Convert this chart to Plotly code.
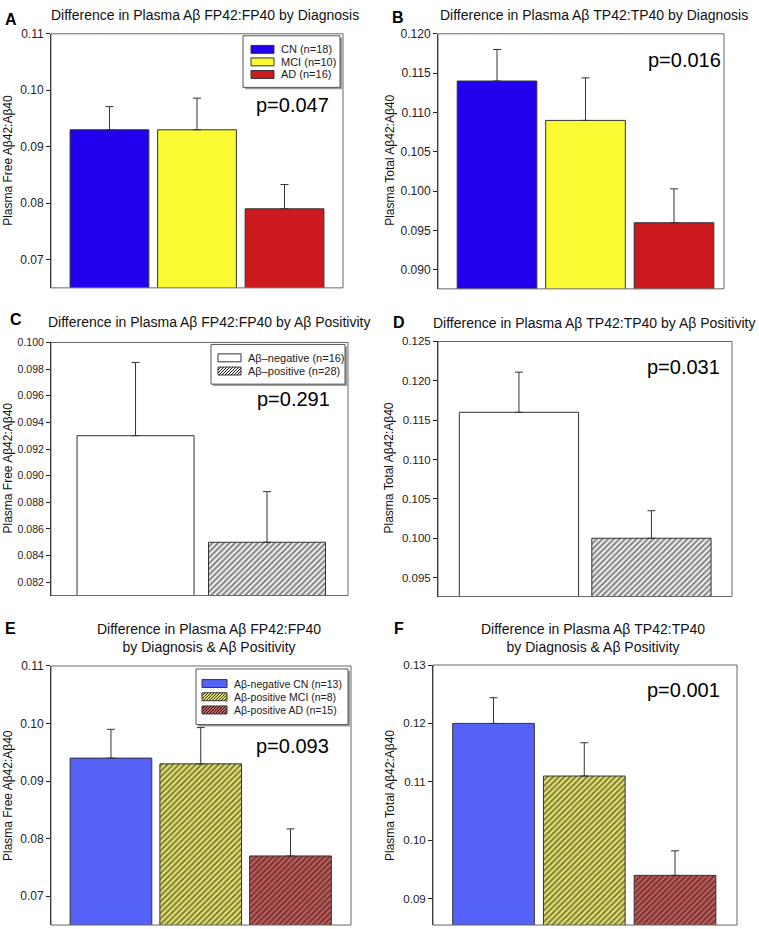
import plotly.graph_objects as go

# ---------------- data ----------------
dx_groups = ["CN (n=18)", "MCI (n=10)", "AD (n=16)"]
a_means = [0.093, 0.093, 0.079]
a_errs = [0.0041, 0.0056, 0.0043]
b_means = [0.114, 0.109, 0.096]
b_errs = [0.0040, 0.0054, 0.0043]

pos_groups = ["Aβ–negative (n=16)", "Aβ–positive (n=28)"]
c_means = [0.093, 0.085]
c_errs = [0.0055, 0.0038]
d_means = [0.116, 0.100]
d_errs = [0.0051, 0.0035]

mix_groups = ["Aβ-negative CN (n=13)", "Aβ-positive MCI (n=8)", "Aβ-positive AD (n=15)"]
e_means = [0.094, 0.093, 0.077]
e_errs = [0.0050, 0.0063, 0.0047]
f_means = [0.120, 0.111, 0.094]
f_errs = [0.0044, 0.0057, 0.0042]

p_values = ["p=0.047", "p=0.016", "p=0.291", "p=0.031", "p=0.093", "p=0.001"]
titles = [
    "Difference in Plasma Aβ FP42:FP40 by Diagnosis",
    "Difference in Plasma Aβ TP42:TP40 by Diagnosis",
    "Difference in Plasma Aβ FP42:FP40 by Aβ Positivity",
    "Difference in Plasma Aβ TP42:TP40 by Aβ Positivity",
    "Difference in Plasma Aβ FP42:FP40<br>by Diagnosis & Aβ Positivity",
    "Difference in Plasma Aβ TP42:TP40<br>by Diagnosis & Aβ Positivity",
]
ytitles = ["Plasma Free Aβ42:Aβ40", "Plasma Total Aβ42:Aβ40"] * 3
labels = ["A", "B", "C", "D", "E", "F"]

# ---------------- styling ----------------
W, H = 759, 929
FONT = "Arial, Liberation Sans, sans-serif"
HATCH_FG = "#141414"


def fx(p):
    return p / W


def fy(p):
    return 1 - p / H


NOPAT = dict(shape="")


def HATCH(bg):
    return dict(shape="/", fgcolor=HATCH_FG, bgcolor=bg, size=4, solidity=0.58, fillmode="overlay")


dx_styles = [("#2200EE", NOPAT), ("#FAFA32", NOPAT), ("#CC1A1E", NOPAT)]
pos_styles = [("#FFFFFF", NOPAT), ("#FFFFFF", HATCH("#FFFFFF"))]
mix_styles = [("#5462F7", NOPAT), ("#F4F270", HATCH("#F4F270")), ("#D2605E", HATCH("#D2605E"))]

panels = [
    # groups, means, errs, styles, plot px box, xrange, yrange, dtick, tick0, fmt, barwidth, tickfont
    (dx_groups, a_means, a_errs, dx_styles, (51, 343, 27, 283), [-0.668, 2.668], [0.065, 0.11], 0.01, 0.07, ".2f", 0.9, 12),
    (dx_groups, b_means, b_errs, dx_styles, (438, 724, 27, 284), [-0.667, 2.565], [0.0876, 0.120], 0.005, 0.09, ".3f", 0.9, 12),
    (pos_groups, c_means, c_errs, pos_styles, (51, 348, 338, 593), [-0.643, 1.616], [0.081, 0.100], 0.002, 0.082, ".3f", 0.89, 10.5),
    (pos_groups, d_means, d_errs, pos_styles, (438, 732, 337, 594), [-0.611, 1.608], [0.0926, 0.125], 0.005, 0.095, ".3f", 0.9, 11.5),
    (mix_groups, e_means, e_errs, mix_styles, (51, 351, 664, 925), [-0.668, 2.674], [0.065, 0.11], 0.01, 0.07, ".2f", 0.91, 12),
    (mix_groups, f_means, f_errs, mix_styles, (433, 737, 663, 925), [-0.667, 2.683], [0.0855, 0.13], 0.01, 0.09, ".2f", 0.9, 11.5),
]

# legend boxes: (panel index, box x0,y0,x1,y1, swatch x0,x1, row centres, text x, font size)
legends = [
    (0, (243, 29, 340, 81), (251, 274), [42.7, 55.3, 68.0], 279, 11),
    (2, (211, 340, 345, 380), (218, 241), [353.5, 366.8], 246, 11),
    (4, (196, 667, 348, 723), (202, 227), [681.7, 695.0, 708.3], 232, 10.5),
]

fig = go.Figure()
layout = dict(
    width=W, height=H, margin=dict(l=0, r=0, t=0, b=0),
    paper_bgcolor="white", plot_bgcolor="white", barmode="overlay",
    font=dict(family=FONT, color="#222"), showlegend=False,
)
shapes = []
annotations = []

for i, (groups, means, errs, styles, box, xr, yr, dt, t0, fmt, bw, tfs) in enumerate(panels):
    n = i + 1
    sx = "" if n == 1 else str(n)
    xname, yname = "x" + sx, "y" + sx
    x0, x1, y0, y1 = box
    layout["xaxis" + sx] = dict(
        domain=[fx(x0), fx(x1)], range=xr, anchor=yname, type="category",
        showticklabels=False, ticks="", showgrid=False, zeroline=False, showline=False,
    )
    layout["yaxis" + sx] = dict(
        domain=[fy(y1), fy(y0)], range=yr, anchor=xname,
        tickmode="linear", tick0=t0, dtick=dt, tickformat=fmt,
        ticks="outside", ticklen=4, tickcolor="#222", tickwidth=1,
        showline=True, linecolor="#111", linewidth=1,
        showgrid=False, zeroline=False,
        tickfont=dict(size=tfs, color="#222", family=FONT),
    )
    shapes.append(dict(type="rect", xref=xname + " domain", yref=yname + " domain",
                       x0=0, x1=1, y0=0, y1=1, line=dict(color="#666", width=1), layer="above"))
    for g, m, e, (col, pat) in zip(groups, means, errs, styles):
        fig.add_trace(go.Bar(
            x=[g], y=[m], width=[bw], name=g, xaxis=xname, yaxis=yname,
            marker=dict(color=col, line=dict(color="#333", width=1), pattern=pat),
            error_y=dict(type="data", array=[e], arrayminus=[0], symmetric=False,
                         color="#333", thickness=1, width=4),
            hoverinfo="skip",
        ))


def hatch_path(x0, y0, x1, y1, period=3.0):
    """diagonal '/' hatch lines clipped to a pixel rectangle, returned in paper units"""
    h = y1 - y0
    segs = []
    t = x0 - h
    while t < x1:
        s0 = max(0.0, x0 - t)
        s1 = min(h, x1 - t)
        if s1 > s0:
            segs.append("M{:.5f},{:.5f}L{:.5f},{:.5f}".format(
                fx(t + s0), fy(y1 - s0), fx(t + s1), fy(y1 - s1)))
        t += period
    return "".join(segs)


for (pi, (bx0, by0, bx1, by1), (sx0, sx1), rows, tx, fs) in legends:
    groups = panels[pi][0]
    styles = panels[pi][3]
    shapes.append(dict(type="rect", xref="paper", yref="paper",
                       x0=fx(bx0 + 2), x1=fx(bx1 + 2), y0=fy(by1 + 2), y1=fy(by0 + 2),
                       fillcolor="#9a9a9a", line=dict(width=0), layer="above"))
    shapes.append(dict(type="rect", xref="paper", yref="paper",
                       x0=fx(bx0), x1=fx(bx1), y0=fy(by1), y1=fy(by0),
                       fillcolor="white", line=dict(color="#555", width=1), layer="above"))
    for g, (col, pat), ry in zip(groups, styles, rows):
        sy0, sy1 = ry - 4, ry + 4
        shapes.append(dict(type="rect", xref="paper", yref="paper",
                           x0=fx(sx0), x1=fx(sx1), y0=fy(sy1), y1=fy(sy0),
                           fillcolor=col, line=dict(width=0), layer="above"))
        if pat.get("shape"):
            shapes.append(dict(type="path", xref="paper", yref="paper",
                               path=hatch_path(sx0, sy0, sx1, sy1),
                               line=dict(color=HATCH_FG, width=1), layer="above"))
        shapes.append(dict(type="rect", xref="paper", yref="paper",
                           x0=fx(sx0), x1=fx(sx1), y0=fy(sy1), y1=fy(sy0),
                           fillcolor="rgba(0,0,0,0)", line=dict(color="#333", width=1), layer="above"))
        annotations.append(dict(text=g, x=fx(tx), y=fy(ry), xref="paper", yref="paper",
                                xanchor="left", yanchor="middle", showarrow=False,
                                font=dict(size=fs, family=FONT, color="#222")))

# titles
title_pos = [(205, 8), (594, 8), (209, 317), (594, 318), (209, 635.5), (592.5, 635.5)]
for t, (px, py) in zip(titles, title_pos):
    annotations.append(dict(text=t, x=fx(px), y=fy(py), xref="paper", yref="paper",
                            xanchor="center", yanchor="middle", showarrow=False,
                            font=dict(size=14, family=FONT, color="#111")))
# panel labels
label_pos = [(11, 13), (398, 11), (16, 315), (399, 318), (10, 626), (399, 626)]
for t, (px, py) in zip(labels, label_pos):
    annotations.append(dict(text="<b>" + t + "</b>", x=fx(px), y=fy(py), xref="paper", yref="paper",
                            xanchor="center", yanchor="middle", showarrow=False,
                            font=dict(size=16, family=FONT, color="#000")))
# p-values
p_pos = [(292, 99), (684, 53), (293, 395), (683, 363), (292.5, 745), (683, 688)]
for t, (px, py) in zip(p_values, p_pos):
    annotations.append(dict(text=t, x=fx(px), y=fy(py), xref="paper", yref="paper",
                            xanchor="center", yanchor="middle", showarrow=False,
                            font=dict(size=20, family=FONT, color="#000")))
# y-axis titles
yt_pos = [(8, 155), (390, 155), (8, 465), (389, 465), (8, 795), (390, 795)]
for t, (px, py) in zip(ytitles, yt_pos):
    annotations.append(dict(text=t, x=fx(px), y=fy(py), xref="paper", yref="paper",
                            xanchor="center", yanchor="middle", showarrow=False, textangle=-90,
                            font=dict(size=12, family=FONT, color="#111")))

layout["annotations"] = annotations
layout["shapes"] = shapes
fig.update_layout(**layout)
fig.write_html("out.html",
               config={"displayModeBar": False},
               post_script="document.body.style.margin='0px';document.body.style.overflow='hidden';")
